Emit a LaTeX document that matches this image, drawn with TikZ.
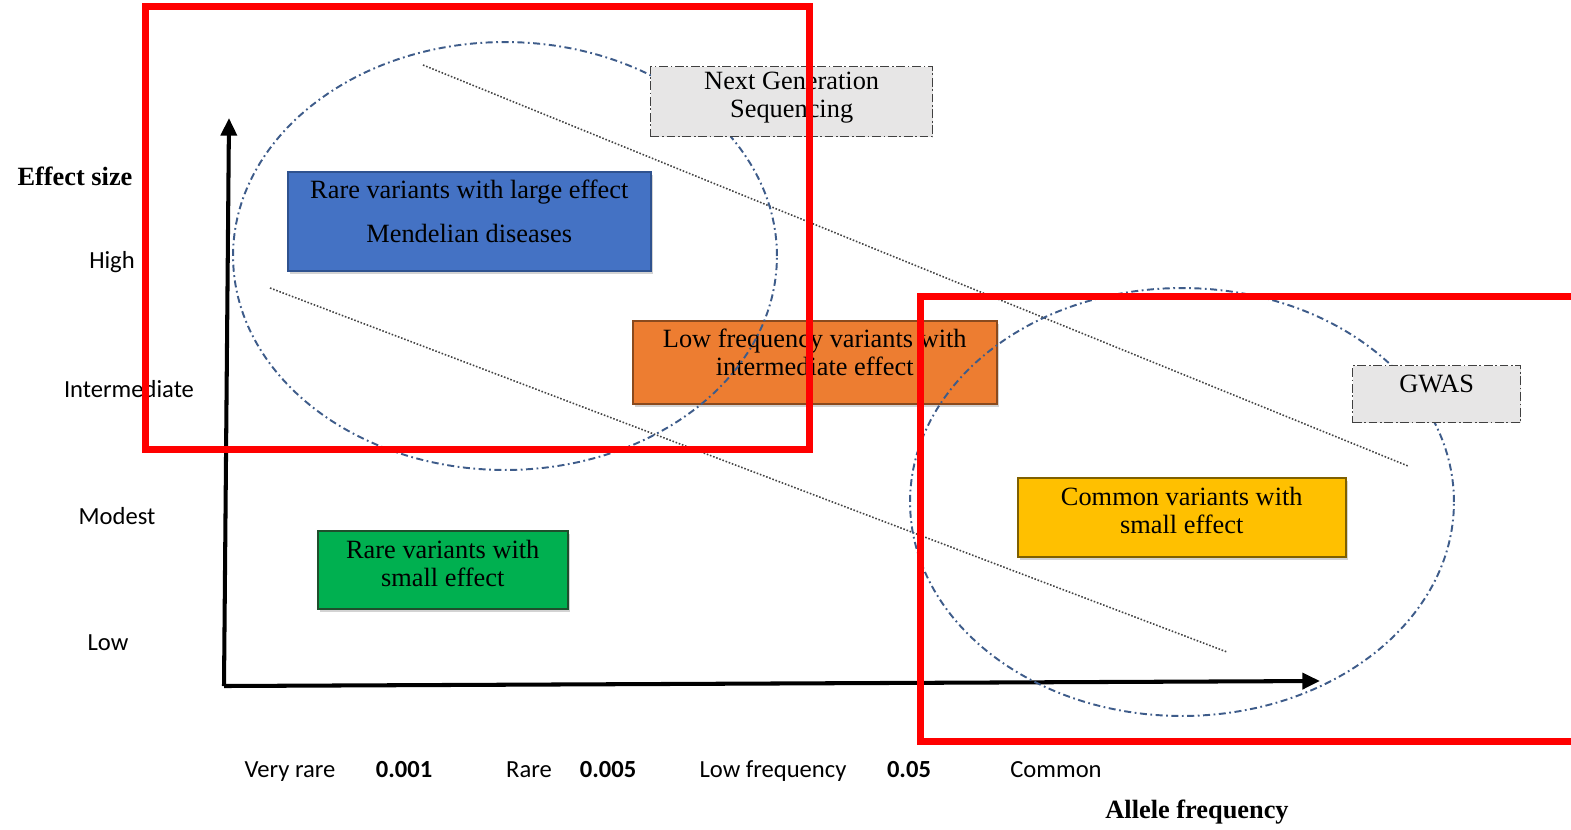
\documentclass[tikz,border=0pt]{standalone}
\usepackage{fontspec}
\setmainfont{Liberation Serif}
\newfontfamily\axisfont{Carlito}
\usetikzlibrary{arrows.meta,shadows}

\definecolor{rareblue}{HTML}{4472C4}
\definecolor{rarebluedark}{HTML}{2F528F}
\definecolor{loworange}{HTML}{ED7D31}
\definecolor{loworangedark}{HTML}{8A4A1E}
\definecolor{smallgreen}{HTML}{00B050}
\definecolor{smallgreendark}{HTML}{1F4E2C}
\definecolor{commonyellow}{HTML}{FFC000}
\definecolor{commonyellowdark}{HTML}{7F6000}
\definecolor{techgray}{HTML}{E7E6E6}
\definecolor{techline}{HTML}{404040}
\definecolor{zoneblue}{HTML}{3E5C8A}
\definecolor{trendgray}{HTML}{444444}

\tikzset{
	boxtext/.style={align=center, font=\fontsize{15}{16}\selectfont},
	varbox/.style={rectangle, anchor=north west, line width=0.9pt,
		drop shadow={shadow xshift=1.5pt, shadow yshift=-2pt, opacity=0.35}},
	techbox/.style={rectangle, anchor=north west, fill=techgray, draw=techline, line width=0.8pt,
		dash pattern=on 5pt off 1.5pt on 1pt off 1.5pt},
	zone/.style={draw=zoneblue, line width=1.1pt, dash pattern=on 4pt off 2pt on 1pt off 2pt},
	trend/.style={draw=trendgray, line width=0.9pt, dash pattern=on 0.9pt off 1pt},
	axisline/.style={line width=2.3pt, -{Triangle[length=10pt,width=9pt]}},
	level/.style={font=\axisfont\fontsize{14}{14}\selectfont},
	cutoff/.style={font=\axisfont\bfseries\fontsize{14}{14}\selectfont},
	axistitle/.style={font=\bfseries\fontsize{15}{15}\selectfont}, 
	highlight/.style={draw=red, line width=3.6pt}
}

\begin{document}
\begin{tikzpicture}[x=0.02cm, y=-0.02cm]
	\useasboundingbox (0,0) rectangle (1571,829);
	
	% axes
	\coordinate (origin) at (224,686); \coordinate (ytip) at (229,118); \coordinate (xtip) at (1320,681);
	\draw [axisline] (origin) -- (ytip);
	\draw [axisline] (origin) -- (xtip);
	
	% trend lines
	\coordinate (t1s) at (423,65); \coordinate (t1e) at (1408,466);
	\coordinate (t2s) at (270,288); \coordinate (t2e) at (1227,652);
	\draw [trend] (t1s) -- (t1e);
	\draw [trend] (t2s) -- (t2e);
	
	% variant classes
	\node [varbox, fill=rareblue, draw=rarebluedark, minimum width=7.26cm, minimum height=1.98cm,
		label={[boxtext, yshift=0.19cm]center:Rare variants with large effect\\[9pt]Mendelian diseases}] (large) at (287,171) {};
	\node [varbox, fill=loworange, draw=loworangedark, minimum width=7.28cm, minimum height=1.66cm,
		label={[boxtext, yshift=0.19cm]center:Low frequency variants with\\intermediate effect}] (inter) at (632,320) {};
	\node [varbox, fill=smallgreen, draw=smallgreendark, minimum width=5.0cm, minimum height=1.56cm,
		label={[boxtext, yshift=0.12cm]center:Rare variants with\\small effect}] (raresmall) at (317,530) {};
	\node [varbox, fill=commonyellow, draw=commonyellowdark, minimum width=6.56cm, minimum height=1.58cm,
		label={[boxtext, yshift=0.14cm]center:Common variants with\\small effect}] (common) at (1017,477) {};
	
	% technology ranges
	\draw [zone] (505,256) ellipse [x radius=5.44cm, y radius=4.28cm];
	\draw [zone] (1182,502) ellipse [x radius=5.44cm, y radius=4.28cm];
	\node [techbox, minimum width=5.64cm, minimum height=1.40cm,
		label={[boxtext, yshift=0.08cm]center:Next Generation\\Sequencing}] (ngs) at (650,66) {};
	\node [techbox, minimum width=3.36cm, minimum height=1.14cm,
		label={[boxtext, yshift=0.21cm]center:GWAS}] (gwas) at (1352,365) {};
	
	% effect size axis
	\node [axistitle] (esize) at (75,176) {Effect size};
	\node [level] (high) at (112,262) {High};
	\node [level] (intermediate) at (129,389) {Intermediate};
	\node [level] (modest) at (117,516) {Modest};
	\node [level] (low) at (108,643) {Low};
	
	% allele frequency axis
	\node [level, anchor=base] (veryrare) at (290,777) {Very rare};
	\node [cutoff, anchor=base] (c1) at (404,777) {0.001};
	\node [level, anchor=base] (rare) at (529,777) {Rare};
	\node [cutoff, anchor=base] (c2) at (608,777) {0.005};
	\node [level, anchor=base] (lowfreq) at (773,777) {Low frequency};
	\node [cutoff, anchor=base] (c3) at (909,777) {0.05};
	\node [level, anchor=base] (commonfreq) at (1056,777) {Common};
	\node [axistitle, anchor=base] (afreq) at (1197,818) {Allele frequency};
	
	% highlighted regions
	\draw [highlight] (145.5,6.5) rectangle (809.5,449.5);
	\draw [highlight] (920.5,296.5) rectangle (1590,741.5);
\end{tikzpicture}
\end{document}
